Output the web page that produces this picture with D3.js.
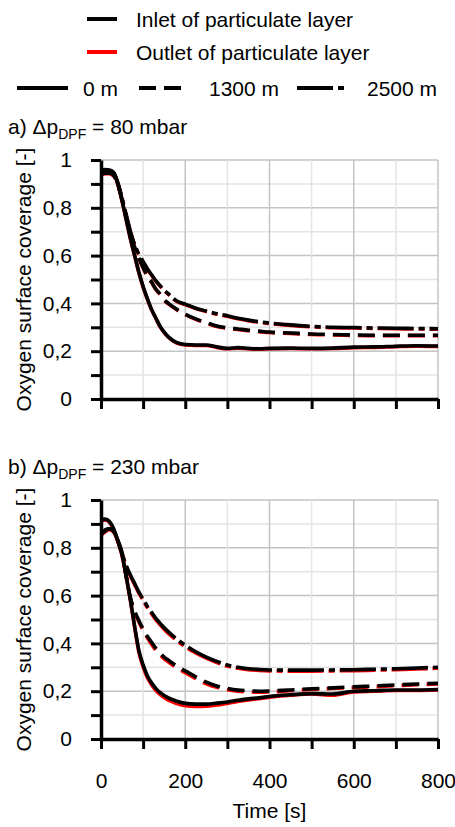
<!DOCTYPE html>
<html><head><meta charset="utf-8">
<script src="https://cdn.jsdelivr.net/npm/d3@7"></script>
<style>
html,body{margin:0;padding:0;background:#fff;}
text{font-family:"Liberation Sans",Arial,sans-serif;fill:#000;}
</style></head>
<body><svg id="chart" width="455" height="827"></svg>
<script>
// ---------- data ----------
const time = [0,10,20,30,40,50,60,70,80,90,100,110,120,130,140,150,160,180,200,225,250,275,300,325,350,375,400,450,500,550,600,650,700,750,800];

// panel a) 80 mbar
const aInlet0    = [0.95,0.955,0.955,0.945,0.90,0.83,0.75,0.67,0.60,0.53,0.47,0.42,0.375,0.34,0.305,0.28,0.26,0.236,0.228,0.226,0.226,0.218,0.212,0.215,0.212,0.21,0.212,0.213,0.212,0.213,0.217,0.218,0.221,0.223,0.222];
const aOutlet0   = [0.948,0.953,0.953,0.943,0.898,0.828,0.748,0.668,0.598,0.528,0.468,0.418,0.373,0.338,0.303,0.278,0.258,0.234,0.226,0.224,0.224,0.216,0.21,0.213,0.21,0.208,0.21,0.211,0.21,0.211,0.215,0.216,0.219,0.221,0.22];
const aInlet1300 = [0.94,0.945,0.945,0.935,0.90,0.835,0.76,0.69,0.635,0.59,0.55,0.515,0.49,0.46,0.44,0.415,0.40,0.375,0.355,0.335,0.32,0.305,0.298,0.293,0.288,0.284,0.28,0.276,0.272,0.27,0.268,0.267,0.267,0.267,0.267];
const aOutlet1300= [0.938,0.943,0.943,0.933,0.898,0.833,0.758,0.688,0.633,0.588,0.548,0.513,0.488,0.458,0.438,0.413,0.398,0.373,0.353,0.333,0.318,0.303,0.296,0.291,0.286,0.282,0.278,0.274,0.27,0.268,0.266,0.265,0.265,0.265,0.265];
const aInlet2500 = [0.955,0.96,0.958,0.948,0.905,0.84,0.77,0.70,0.645,0.605,0.575,0.545,0.52,0.495,0.475,0.455,0.44,0.41,0.397,0.38,0.368,0.357,0.348,0.338,0.33,0.323,0.318,0.31,0.304,0.30,0.299,0.297,0.296,0.295,0.294];
const aOutlet2500= [0.953,0.958,0.956,0.946,0.903,0.838,0.768,0.698,0.643,0.603,0.573,0.543,0.518,0.493,0.473,0.453,0.438,0.408,0.395,0.378,0.366,0.355,0.346,0.336,0.328,0.321,0.316,0.308,0.302,0.298,0.297,0.295,0.294,0.293,0.292];

// panel b) 230 mbar
const bInlet0    = [0.915,0.92,0.91,0.88,0.83,0.77,0.68,0.58,0.47,0.37,0.31,0.265,0.235,0.212,0.195,0.182,0.172,0.158,0.149,0.146,0.146,0.15,0.155,0.162,0.168,0.172,0.178,0.185,0.19,0.188,0.2,0.202,0.205,0.205,0.207];
const bOutlet0   = [0.912,0.917,0.907,0.877,0.827,0.767,0.677,0.577,0.465,0.362,0.302,0.257,0.227,0.204,0.187,0.173,0.162,0.148,0.139,0.136,0.137,0.142,0.149,0.157,0.163,0.169,0.175,0.183,0.188,0.183,0.197,0.2,0.203,0.203,0.205];
const bInlet1300 = [0.855,0.87,0.88,0.87,0.83,0.78,0.68,0.59,0.535,0.495,0.46,0.43,0.405,0.38,0.36,0.343,0.33,0.305,0.285,0.26,0.238,0.222,0.212,0.205,0.202,0.20,0.201,0.205,0.21,0.214,0.218,0.222,0.226,0.23,0.233];
const bOutlet1300= [0.852,0.867,0.877,0.867,0.827,0.777,0.677,0.587,0.53,0.49,0.454,0.423,0.397,0.372,0.352,0.335,0.322,0.297,0.277,0.252,0.231,0.216,0.206,0.2,0.197,0.196,0.197,0.202,0.207,0.211,0.215,0.219,0.223,0.227,0.23];
const bInlet2500 = [0.86,0.875,0.88,0.87,0.83,0.775,0.725,0.685,0.65,0.615,0.585,0.555,0.53,0.505,0.485,0.465,0.448,0.418,0.392,0.365,0.343,0.325,0.31,0.30,0.294,0.291,0.289,0.288,0.288,0.289,0.29,0.292,0.294,0.297,0.30];
const bOutlet2500= [0.857,0.872,0.877,0.867,0.827,0.772,0.722,0.681,0.645,0.61,0.58,0.55,0.524,0.499,0.479,0.459,0.442,0.412,0.386,0.36,0.338,0.32,0.305,0.296,0.29,0.287,0.285,0.284,0.284,0.285,0.286,0.288,0.29,0.293,0.296];

const yTicks = [0,0.1,0.2,0.3,0.4,0.5,0.6,0.7,0.8,0.9,1];
const yLabels = ["0","","0,2","","0,4","","0,6","","0,8","","1"];
const xTicks = [0,100,200,300,400,500,600,700,800];
const xLabels = ["0","","200","","400","","600","","800"];

const legendLayer = ["Inlet of particulate layer","Outlet of particulate layer"];
const legendLength = ["0 m","1300 m","2500 m"];

// ---------- styles ----------
const dashes = {"0":null, "1300":"17,8", "2500":"36,5,6,5"};
const svg = d3.select("#chart");
svg.append("rect").attr("width",455).attr("height",827).attr("fill","#fff");

const x = d3.scaleLinear().domain([0,800]).range([101,438]);

function panel(top, bottom, title, sub, rest, series, showX){
  const y = d3.scaleLinear().domain([0,1]).range([bottom, top]);
  const g = svg.append("g");
  // grid
  g.selectAll(".gh").data(yTicks.slice(1)).enter().append("line")
    .attr("x1",x(0)).attr("x2",x(800)).attr("y1",d=>y(d)).attr("y2",d=>y(d))
    .attr("stroke",(d,i)=> (i%2===1)?"#c4c4c4":"#e4e4e4").attr("stroke-width",1.5);
  g.selectAll(".gv").data(xTicks.slice(1)).enter().append("line")
    .attr("y1",y(0)).attr("y2",y(1)).attr("x1",d=>x(d)).attr("x2",d=>x(d))
    .attr("stroke",(d,i)=> (i%2===1)?"#c4c4c4":"#e4e4e4").attr("stroke-width",1.5);

  const line = d3.line().x((d,i)=>x(time[i])).y(d=>y(d)).curve(d3.curveMonotoneX);
  // outlet (red) first, then inlet (black)
  series.forEach(s=>{
    g.append("path").attr("d",line(s.outlet)).attr("fill","none").attr("stroke","#ff0000")
      .attr("stroke-width",3.6).attr("stroke-dasharray",dashes[s.len]);
  });
  series.forEach(s=>{
    g.append("path").attr("d",line(s.inlet)).attr("fill","none").attr("stroke","#000")
      .attr("stroke-width",3.6).attr("stroke-dasharray",dashes[s.len]);
  });

  // axes
  const ya = d3.axisLeft(y).tickValues(yTicks).tickSize(10).tickSizeOuter(0).tickPadding(19)
    .tickFormat((d,i)=>yLabels[i]);
  const yg = g.append("g").attr("transform",`translate(${x(0)},0)`).call(ya);
  const xa = d3.axisBottom(x).tickValues(xTicks).tickSize(10).tickSizeOuter(0).tickPadding(24)
    .tickFormat((d,i)=> showX ? xLabels[i] : "");
  const xg = g.append("g").attr("transform",`translate(0,${y(0)})`).call(xa);
  [yg,xg].forEach(a=>{
    a.select(".domain").attr("stroke","#000").attr("stroke-width",3.5);
    a.selectAll(".tick line").attr("stroke","#000").attr("stroke-width",3);
    a.selectAll("text").attr("font-size",21).attr("font-family","Liberation Sans, Arial, sans-serif").attr("fill","#000");
  });

  // y label
  g.append("text").attr("transform",`translate(31,${(top+bottom)/2}) rotate(-90)`)
    .attr("text-anchor","middle").attr("font-size",21).text("Oxygen surface coverage [-]");

  // title
  const t = g.append("text").attr("x",8).attr("y",top-26).attr("font-size",21);
  t.append("tspan").text(title);
  t.append("tspan").attr("font-size",14).attr("dy",5).text(sub);
  t.append("tspan").attr("dy",-5).text(rest);
}

panel(160, 399, "a) Δp", "DPF", " = 80 mbar", [
  {len:"0", inlet:aInlet0, outlet:aOutlet0},
  {len:"1300", inlet:aInlet1300, outlet:aOutlet1300},
  {len:"2500", inlet:aInlet2500, outlet:aOutlet2500}
], false);

panel(500, 739, "b) Δp", "DPF", " = 230 mbar", [
  {len:"0", inlet:bInlet0, outlet:bOutlet0},
  {len:"1300", inlet:bInlet1300, outlet:bOutlet1300},
  {len:"2500", inlet:bInlet2500, outlet:bOutlet2500}
], true);

// x label
svg.append("text").attr("x",x(400)).attr("y",818).attr("text-anchor","middle").attr("font-size",21).text("Time [s]");

// legend
const lg = svg.append("g");
const layerColors = ["#000","#ff0000"];
legendLayer.forEach((d,i)=>{
  const yy = 19 + i*33;
  lg.append("line").attr("x1",87).attr("x2",117).attr("y1",yy).attr("y2",yy)
    .attr("stroke",layerColors[i]).attr("stroke-width",4);
  lg.append("text").attr("x",136).attr("y",yy).attr("dy","0.36em").attr("font-size",21).text(d);
});
const lenKeys = ["0","1300","2500"];
const lenX = [[17,68,83],[139,189,209],[297,348,367]];
legendLength.forEach((d,i)=>{
  const yy = 88;
  lg.append("line").attr("x1",lenX[i][0]).attr("x2",lenX[i][1]).attr("y1",yy).attr("y2",yy)
    .attr("stroke","#000").attr("stroke-width",4).attr("stroke-dasharray",dashes[lenKeys[i]]);
  lg.append("text").attr("x",lenX[i][2]).attr("y",yy).attr("dy","0.36em").attr("font-size",21).text(d);
});
</script></body></html>
